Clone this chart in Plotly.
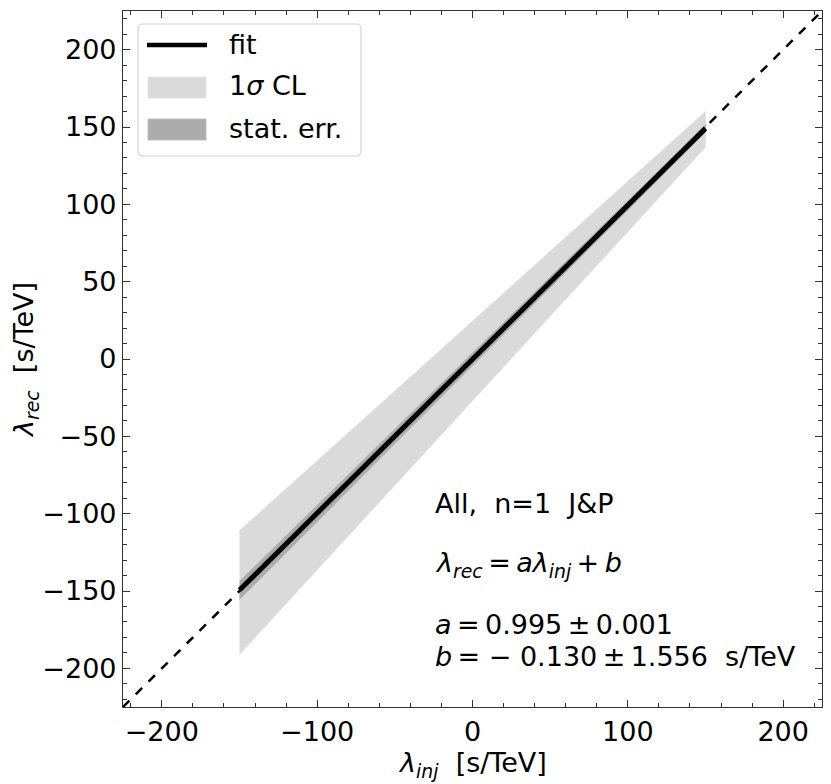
import plotly.graph_objects as go

# ---- data ----
x_inj = [-150, 150]
fit_rec = [-149.4, 149.1]
cl_lower = [-191, 137]
cl_upper = [-111, 160]
stat_lower = [-155.5, 146.8]
stat_upper = [-143.8, 151.5]
diag = [-225, 225]

legend_labels = ["fit", "1<i>σ</i> CL", "stat. err."]

FONT = "DejaVu Sans"
CL_COLOR = "rgb(218,218,218)"
STAT_COLOR = "rgb(172,172,172)"
TH = "\u2009"  # thin space (mathtext-like operator spacing)

fig = go.Figure()

# 1 sigma CL band
fig.add_trace(go.Scatter(
    x=x_inj + x_inj[::-1], y=cl_upper + cl_lower[::-1],
    fill="toself", fillcolor=CL_COLOR,
    line=dict(color="rgb(226,226,226)", width=1),
    mode="lines", name=legend_labels[1], showlegend=False, hoverinfo="skip"))

# stat err band
fig.add_trace(go.Scatter(
    x=x_inj + x_inj[::-1], y=stat_upper + stat_lower[::-1],
    fill="toself", fillcolor=STAT_COLOR,
    line=dict(color="rgb(180,180,180)", width=1),
    mode="lines", name=legend_labels[2], showlegend=False, hoverinfo="skip"))

# diagonal
fig.add_trace(go.Scatter(
    x=diag, y=diag, mode="lines",
    line=dict(color="black", width=2.5, dash="dash"),
    showlegend=False, hoverinfo="skip"))

# fit
fig.add_trace(go.Scatter(
    x=x_inj, y=fit_rec, mode="lines",
    line=dict(color="black", width=5),
    name=legend_labels[0], showlegend=False))

TS = 27
axis_common = dict(
    showgrid=False, zeroline=False,
    showline=True, linecolor="#333333", linewidth=1.2, mirror="allticks",
    ticks="inside", ticklen=7, tickwidth=1.2, tickcolor="#333333",
    tickfont=dict(family=FONT, size=TS, color="black"),
    range=[-225, 225],
)

fig.update_xaxes(**axis_common, dtick=100, tick0=0,
                 minor=dict(ticks="inside", ticklen=4, tickwidth=1, dtick=20, tick0=0, tickcolor="#333333"))
fig.update_yaxes(**axis_common, dtick=50, tick0=0,
                 minor=dict(ticks="inside", ticklen=4, tickwidth=1, dtick=10, tick0=0, tickcolor="#333333"),
                 title=dict(text="<i>λ</i><sub><i>rec</i></sub>  [s/TeV]",
                            font=dict(family=FONT, size=TS, color="black"), standoff=4))

# the page body adds an 8px offset; plot area on screen spans 123..822 x 11..707
OFF = 8
W, H = 831 - OFF, 784 - OFF
L, R, T, B = 123, 822, 11, 707
def px(x):
    return (x - L) / (R - L)
def py(y):
    return (B - y) / (B - T)

ann_font = dict(family=FONT, size=TS, color="black")
texts = [
    ("All,  n=1  J&P", 503),
    (f"<i>λ</i><sub><i>rec</i></sub>{TH}={TH}<i>aλ</i><sub><i>inj</i></sub>{TH}+{TH}<i>b</i>", 564),
    (f"<i>a</i>{TH}={TH}0.995{TH}±{TH}0.001", 624),
    (f"<i>b</i>{TH}= − 0.130{TH}±{TH}1.556  s/TeV", 656),
]
annotations = []
for t, ypx in texts:
    annotations.append(dict(
        text=t, xref="paper", yref="paper",
        x=px(433), y=py(ypx),
        xanchor="left", yanchor="middle", showarrow=False, font=ann_font))

# x-axis title
annotations.append(dict(
    text="<i>λ</i><sub><i>inj</i></sub>  [s/TeV]", xref="paper", yref="paper",
    x=0.5, y=py(764), xanchor="center", yanchor="middle", showarrow=False, font=ann_font))

# manual legend (box, keys, labels)
bx0, bx1, by0, by1, r = 138, 361, 24, 156, 5
rx, ry = r / (R - L), r / (B - T)
X0, X1, Y0, Y1 = px(bx0), px(bx1), py(by1), py(by0)
box_path = (f"M {X0+rx},{Y0} L {X1-rx},{Y0} Q {X1},{Y0} {X1},{Y0+ry} "
            f"L {X1},{Y1-ry} Q {X1},{Y1} {X1-rx},{Y1} L {X0+rx},{Y1} "
            f"Q {X0},{Y1} {X0},{Y1-ry} L {X0},{Y0+ry} Q {X0},{Y0} {X0+rx},{Y0} Z")
shapes = [
    dict(type="path", path=box_path, xref="paper", yref="paper",
         fillcolor="rgba(255,255,255,0.85)", line=dict(color="#d4d4d4", width=1.2), layer="above"),
    dict(type="line", xref="paper", yref="paper", x0=px(147), x1=px(207), y0=py(45), y1=py(45),
         line=dict(color="black", width=4.5), layer="above"),
    dict(type="rect", xref="paper", yref="paper", x0=px(148), x1=px(206), y0=py(98), y1=py(77),
         fillcolor=CL_COLOR, line=dict(color="rgb(228,228,228)", width=1), layer="above"),
    dict(type="rect", xref="paper", yref="paper", x0=px(148), x1=px(206), y0=py(140), y1=py(119),
         fillcolor=STAT_COLOR, line=dict(color="rgb(190,190,190)", width=1), layer="above"),
]
for lab, ypx in zip(legend_labels, [44, 86, 128]):
    annotations.append(dict(
        text=lab, xref="paper", yref="paper", x=px(227), y=py(ypx),
        xanchor="left", yanchor="middle", showarrow=False, font=ann_font))

fig.update_layout(
    width=W, height=H,
    margin=dict(l=L - OFF, r=831 - R, t=T - OFF, b=784 - B),
    plot_bgcolor="white", paper_bgcolor="white",
    font=dict(family=FONT),
    annotations=annotations,
    shapes=shapes,
    showlegend=False,
)

fig.write_html("out.html")
